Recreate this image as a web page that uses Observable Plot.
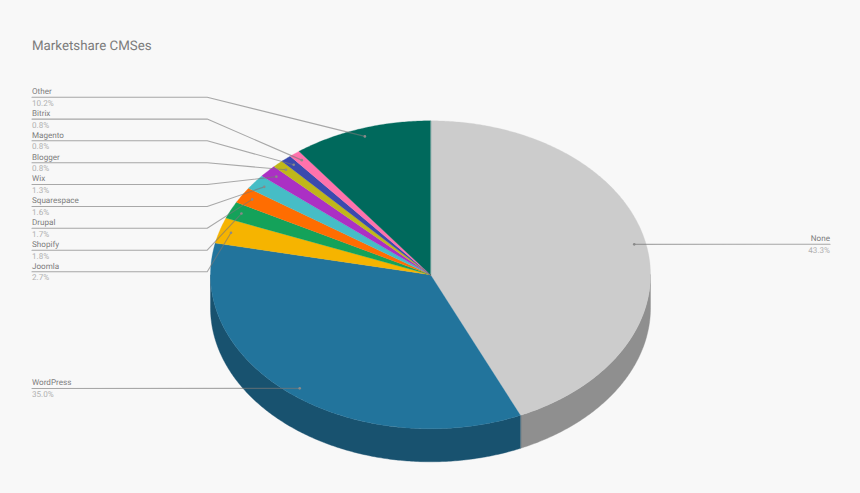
<!DOCTYPE html>
<html>
<head>
<meta charset="utf-8">
<script src="https://cdn.jsdelivr.net/npm/d3@7"></script>
<script src="https://cdn.jsdelivr.net/npm/@observablehq/plot@0.6"></script>
<style>
  html, body { margin: 0; padding: 0; background: #f8f8f8; }
  svg { display: block; }
  svg text { text-rendering: geometricPrecision; }
</style>
</head>
<body>
<div id="chart"></div>
<script>
const title = "Marketshare CMSes";
const categories = ["None", "WordPress", "Joomla", "Shopify", "Drupal", "Squarespace", "Wix", "Blogger", "Magento", "Bitrix", "Other"];
const shares = [43.3, 35.0, 2.7, 1.8, 1.7, 1.6, 1.3, 0.8, 0.8, 0.8, 10.2];
const topColors = ["#cccccc", "#22749c", "#f6b400", "#14a25a", "#ff6d01", "#46bdc6", "#ab30c4", "#bfb71a", "#3b4aae", "#ff72ac", "#00695c"];
const sideColors = ["#8f8f8f", "#18526f"];
const labelLineY = [243.7, 388, 271.3, 249.7, 227.7, 206, 184, 162.3, 140.3, 118.6, 96.7];

const W = 860, H = 493, cx = 430, cy = 274.3, rx = 220, ry = 154, depth = 33;
const total = d3.sum(shares);
const ink = "#7c7c7c", faint = "#b0b0b0";

const px = (a, r = 1) => cx + r * rx * Math.sin(a);
const py = (a, r = 1) => cy - r * ry * Math.cos(a);
const angle = v => v / total * 2 * Math.PI;

// Slice polygons derived from the shares
let acc = 0;
const slices = categories.map((name, i) => {
  const a0 = angle(acc);
  acc += shares[i];
  return {name, i, a0, a1: angle(acc), value: shares[i]};
});

const arcPoints = (a0, a1) => {
  const n = Math.max(2, Math.ceil((a1 - a0) / 0.01));
  return d3.range(n + 1).map(k => a0 + (a1 - a0) * k / n);
};

const tops = slices.flatMap(s => [
  {key: s.name, x: cx, y: cy, color: topColors[s.i]},
  ...arcPoints(s.a0, s.a1).map(a => ({key: s.name, x: px(a), y: py(a), color: topColors[s.i]}))
]);

// Visible wall: front half of the ellipse only
const sides = slices.flatMap(s => {
  const a0 = Math.max(s.a0, Math.PI / 2), a1 = Math.min(s.a1, 3 * Math.PI / 2);
  if (a1 <= a0) return [];
  const c = sideColors[s.i];
  const arc = arcPoints(a0, a1);
  return [
    ...arc.map(a => ({key: s.name, x: px(a), y: py(a), color: c})),
    ...arc.slice().reverse().map(a => ({key: s.name, x: px(a), y: py(a) + depth, color: c}))
  ];
});

// Leaders
const leftX = 31.5, elbowX = 206.7, rightX = 829.5, dotR = 0.947;
const leaders = slices.flatMap(s => {
  const mid = (s.a0 + s.a1) / 2;
  const ly = labelLineY[s.i];
  const dot = {x: px(mid, dotR), y: py(mid, dotR)};
  if (s.name === "None") return [{key: s.name, x: rightX, y: ly}, {key: s.name, ...dot}];
  if (s.name === "WordPress") return [{key: s.name, x: leftX, y: ly}, {key: s.name, ...dot}];
  return [{key: s.name, x: leftX, y: ly}, {key: s.name, x: elbowX, y: ly}, {key: s.name, ...dot}];
});
const dots = slices.map(s => {
  const mid = (s.a0 + s.a1) / 2;
  return {x: px(mid, dotR), y: py(mid, dotR)};
});
const labels = slices.map(s => ({
  name: s.name,
  pct: s.value.toFixed(1) + "%",
  x: s.name === "None" ? rightX : leftX,
  y: labelLineY[s.i],
  anchor: s.name === "None" ? "end" : "start"
}));
const leftLabels = labels.filter(d => d.anchor === "start");
const rightLabels = labels.filter(d => d.anchor === "end");

const font = "Roboto, sans-serif";
const textMarks = (data, anchor) => [
  Plot.text(data, {x: "x", y: "y", text: "name", textAnchor: anchor, lineAnchor: "bottom", dy: -3.3, fontSize: 8.1, fontFamily: font, fill: ink}),
  Plot.text(data, {x: "x", y: "y", text: "pct", textAnchor: anchor, lineAnchor: "top", dy: 2.8, fontSize: 8.1, fontFamily: font, fill: faint})
];

const chart = Plot.plot({
  width: W,
  height: H,
  margin: 0,
  style: {background: "#f8f8f8", fontFamily: font},
  x: {domain: [0, W], range: [0, W], axis: null},
  y: {domain: [0, H], range: [0, H], axis: null},
  color: {type: "identity"},
  marks: [
    Plot.line(sides, {x: "x", y: "y", z: "key", fill: "color", stroke: "color", strokeWidth: 0.4, curve: "linear-closed"}),
    Plot.line(tops, {x: "x", y: "y", z: "key", fill: "color", stroke: "color", strokeWidth: 0.3, curve: "linear-closed"}),
    Plot.line(leaders, {x: "x", y: "y", z: "key", stroke: "#777777", strokeOpacity: 0.62, strokeWidth: 1.1, curve: "linear"}),
    Plot.dot(dots, {x: "x", y: "y", r: 1.3, fill: "#8a8a8a"}),
    ...textMarks(leftLabels, "start"),
    ...textMarks(rightLabels, "end"),
    Plot.text([title], {x: () => leftX, y: () => 49.7, text: d => d, textAnchor: "start", lineAnchor: "bottom", fontSize: 13.3, fontFamily: font, fill: ink})
  ]
});
document.getElementById("chart").append(chart);
</script>
</body>
</html>
